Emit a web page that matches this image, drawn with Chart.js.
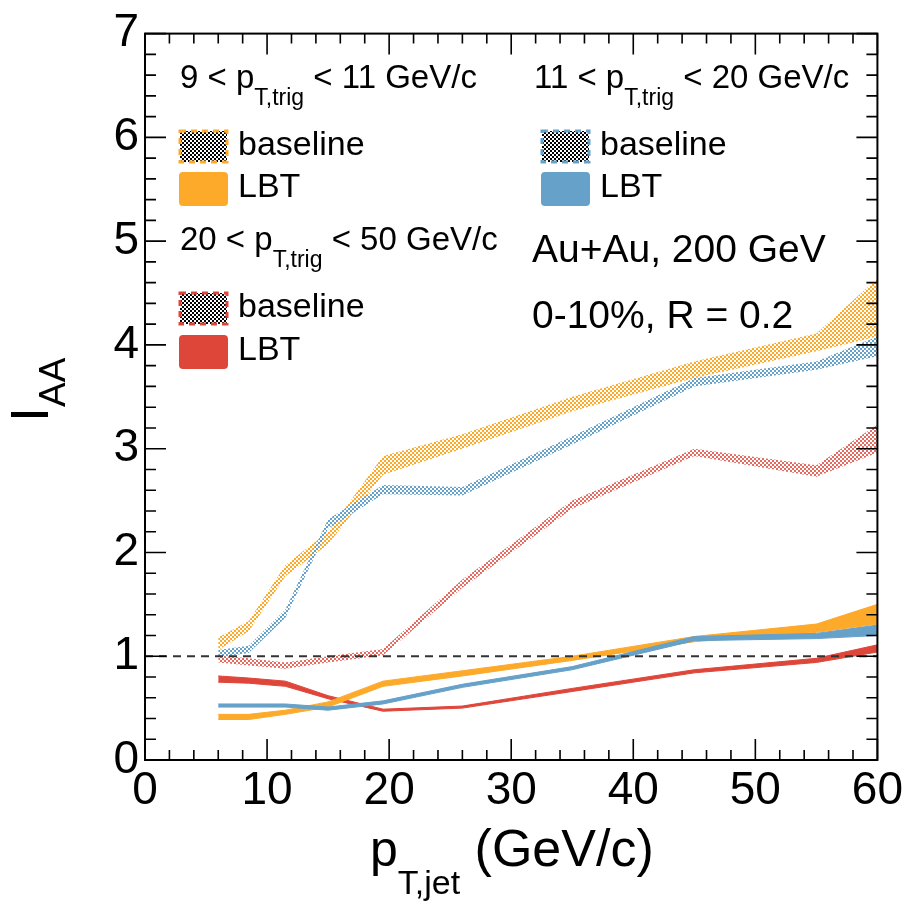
<!DOCTYPE html>
<html>
<head>
<meta charset="utf-8">
<script src="https://cdn.jsdelivr.net/npm/chart.js@4.4.1/dist/chart.umd.min.js"></script>
<style>
  html, body { margin: 0; padding: 0; background: #fff; }
  #wrap { width: 907px; height: 903px; }
</style>
</head>
<body>
<div id="wrap"><canvas id="c" width="907" height="903"></canvas></div>
<script>
// jet pT bin centres (GeV/c)
var ptJet = [6, 8.5, 11.5, 15, 19.5, 26, 35, 45, 55, 60];

// baseline bands (lo / hi edge of the band)
var base911Lo  = [1.06, 1.24, 1.77, 2.08, 2.75, 3.00, 3.36, 3.68, 3.94, 4.08];
var base911Hi  = [1.18, 1.34, 1.88, 2.20, 2.93, 3.14, 3.50, 3.84, 4.11, 4.64];
var base1120Lo = [0.99, 1.03, 1.37, 2.23, 2.56, 2.55, 3.04, 3.60, 3.76, 3.89];
var base1120Hi = [1.06, 1.10, 1.45, 2.32, 2.65, 2.63, 3.12, 3.68, 3.84, 4.08];
var base2050Lo = [0.94, 0.91, 0.88, 0.94, 1.01, 1.66, 2.42, 2.93, 2.73, 2.96];
var base2050Hi = [1.01, 0.98, 0.94, 1.00, 1.07, 1.74, 2.50, 3.00, 2.84, 3.23];

// LBT bands
var lbt911Lo  = [0.39, 0.39, 0.44, 0.51, 0.71, 0.81, 0.96, 1.14, 1.23, 1.31];
var lbt911Hi  = [0.44, 0.44, 0.48, 0.56, 0.76, 0.86, 1.00, 1.19, 1.31, 1.50];
var lbt1120Lo = [0.51, 0.51, 0.51, 0.48, 0.54, 0.70, 0.87, 1.15, 1.17, 1.20];
var lbt1120Hi = [0.54, 0.54, 0.54, 0.51, 0.57, 0.73, 0.90, 1.19, 1.22, 1.30];
var lbt2050Lo = [0.75, 0.74, 0.71, 0.59, 0.47, 0.50, 0.66, 0.84, 0.94, 1.04];
var lbt2050Hi = [0.81, 0.79, 0.76, 0.62, 0.49, 0.52, 0.69, 0.87, 0.98, 1.11];

var refLine = 1;
var xRange = [0, 60];
var yRange = [0, 7];

var ORANGE = '#FDAA2B';
var BLUE = '#66A1C9';
var RED = '#DF463A';
var FONT = '"Liberation Sans", Arial, Helvetica, sans-serif';

Chart.defaults.font.family = FONT;

// small checker tile used for the hatched "baseline" bands
function checker(color, bg) {
  var t = document.createElement('canvas');
  t.width = 4; t.height = 4;
  var g = t.getContext('2d');
  if (bg) { g.fillStyle = bg; g.fillRect(0, 0, 4, 4); }
  g.fillStyle = color;
  g.fillRect(0, 0, 2, 2);
  g.fillRect(2, 2, 2, 2);
  return g.createPattern(t, 'repeat');
}

var ctx0 = document.getElementById('c').getContext('2d');

function pts(ys) {
  return ptJet.map(function(x, i) { return { x: x, y: ys[i] }; });
}

function band(lo, hi, fillStyle, edge) {
  return [
    { data: pts(lo), borderColor: edge || 'rgba(0,0,0,0)', borderWidth: edge ? 1 : 0,
      pointRadius: 0, fill: false, tension: 0 },
    { data: pts(hi), borderColor: edge || 'rgba(0,0,0,0)', borderWidth: edge ? 1 : 0,
      pointRadius: 0, fill: '-1', backgroundColor: fillStyle, tension: 0 }
  ];
}

var datasets = []
  .concat(band(base1120Lo, base1120Hi, checker('rgba(102,161,201,1)')))
  .concat(band(base911Lo, base911Hi, checker('rgba(253,170,43,1)')))
  .concat(band(base2050Lo, base2050Hi, checker('rgba(223,70,58,0.8)')))
  .concat(band(lbt1120Lo, lbt1120Hi, BLUE, BLUE))
  .concat(band(lbt911Lo, lbt911Hi, ORANGE, ORANGE))
  .concat(band(lbt2050Lo, lbt2050Hi, RED, RED));

// text with subscripts: parts = [text, size, dy]
function drawParts(ctx, x, y, parts) {
  var cx = x;
  parts.forEach(function(p) {
    ctx.font = p[1] + 'px ' + FONT;
    ctx.fillText(p[0], cx, y + p[2]);
    cx += ctx.measureText(p[0]).width;
  });
}

function legendBase(ctx, x, y, color) {
  ctx.save();
  ctx.fillStyle = checker('#000', '#fff');
  ctx.fillRect(x, y, 47, 31);
  ctx.setLineDash([6, 5]);
  ctx.lineWidth = 3;
  ctx.strokeStyle = color;
  ctx.strokeRect(x, y, 47, 31);
  ctx.restore();
}

function legendSolid(ctx, x, y, color) {
  ctx.save();
  ctx.fillStyle = color;
  ctx.strokeStyle = color;
  ctx.lineWidth = 2;
  ctx.beginPath();
  ctx.roundRect(x, y, 47, 32, 3);
  ctx.fill();
  ctx.stroke();
  ctx.restore();
}

var decor = {
  id: 'decor',
  afterDatasetsDraw: function(chart) {
    var c = chart.ctx, a = chart.chartArea;
    var yy = chart.scales.y.getPixelForValue(refLine);
    c.save();
    c.strokeStyle = '#333';
    c.lineWidth = 2;
    c.setLineDash([8, 6]);
    c.beginPath();
    c.moveTo(a.left, yy);
    c.lineTo(a.right, yy);
    c.stroke();
    c.restore();
  },
  afterDraw: function(chart) {
    var c = chart.ctx, a = chart.chartArea;
    var sx = chart.scales.x, sy = chart.scales.y;
    c.save();
    // frame
    c.strokeStyle = '#000';
    c.lineWidth = 2;
    c.strokeRect(a.left, a.top, a.right - a.left, a.bottom - a.top);
    // inner ticks
    c.lineWidth = 1.6;
    c.beginPath();
    var v, p, len;
    for (v = xRange[0]; v <= xRange[1] + 1e-6; v += 2) {
      p = sx.getPixelForValue(v);
      len = (Math.round(v) % 10 === 0) ? 21 : 10;
      c.moveTo(p, a.bottom); c.lineTo(p, a.bottom - len);
      c.moveTo(p, a.top); c.lineTo(p, a.top + len);
    }
    for (var k = 0; k <= 35; k++) {
      v = k * 0.2;
      p = sy.getPixelForValue(v);
      len = (k % 5 === 0) ? 21 : 11;
      c.moveTo(a.left, p); c.lineTo(a.left + len, p);
      c.moveTo(a.right, p); c.lineTo(a.right - len, p);
    }
    c.stroke();

    // legend
    c.fillStyle = '#000';
    c.textBaseline = 'alphabetic';
    c.textAlign = 'left';
    drawParts(c, 180, 88, [['9 < p', 33, 0], ['T,trig', 23, 17], [' < 11 GeV/c', 33, 0]]);
    drawParts(c, 534, 88, [['11 < p', 33, 0], ['T,trig', 23, 17], [' < 20 GeV/c', 33, 0]]);
    drawParts(c, 180, 250, [['20 < p', 33, 0], ['T,trig', 23, 17], [' < 50 GeV/c', 33, 0]]);

    legendBase(c, 180, 131, ORANGE);
    legendSolid(c, 180, 173, ORANGE);
    legendBase(c, 542, 131, BLUE);
    legendSolid(c, 542, 173, BLUE);
    legendBase(c, 180, 293, RED);
    legendSolid(c, 180, 336, RED);

    c.fillStyle = '#000';
    c.font = '34px ' + FONT;
    c.fillText('baseline', 238, 155);
    c.fillText('LBT', 238, 197);
    c.fillText('baseline', 600, 155);
    c.fillText('LBT', 600, 197);
    c.fillText('baseline', 238, 317);
    c.fillText('LBT', 238, 360);

    c.font = '39px ' + FONT;
    c.fillText('Au+Au, 200 GeV', 532, 262);
    c.fillText('0-10%, R = 0.2', 532, 328);

    // x title
    drawParts(c, 370, 866, [['p', 50, 0], ['T,jet', 34, 28], [' (GeV/c)', 52, 0]]);

    // y title (rotated)
    c.translate(48, 422);
    c.rotate(-Math.PI / 2);
    drawParts(c, 0, 0, [['I', 54, 0], ['AA', 37, 17]]);
    c.restore();
  }
};

new Chart(ctx0, {
  type: 'line',
  data: { datasets: datasets },
  plugins: [decor],
  options: {
    responsive: false,
    animation: false,
    devicePixelRatio: 1,
    layout: { padding: { top: 28, right: 29, left: 0, bottom: 0 } },
    plugins: { legend: { display: false }, tooltip: { enabled: false } },
    scales: {
      x: {
        type: 'linear', min: xRange[0], max: xRange[1],
        grid: { display: false, drawTicks: false },
        border: { display: false },
        ticks: { stepSize: 10, maxRotation: 0, padding: 4, color: '#000', font: { size: 46 } },
        afterFit: function(s) { s.height = 143; }
      },
      y: {
        type: 'linear', min: yRange[0], max: yRange[1],
        grid: { display: false, drawTicks: false },
        border: { display: false },
        ticks: { stepSize: 1, padding: 6, color: '#000', font: { size: 46 } },
        afterFit: function(s) { s.width = 145; }
      }
    }
  }
});
</script>
</body>
</html>
